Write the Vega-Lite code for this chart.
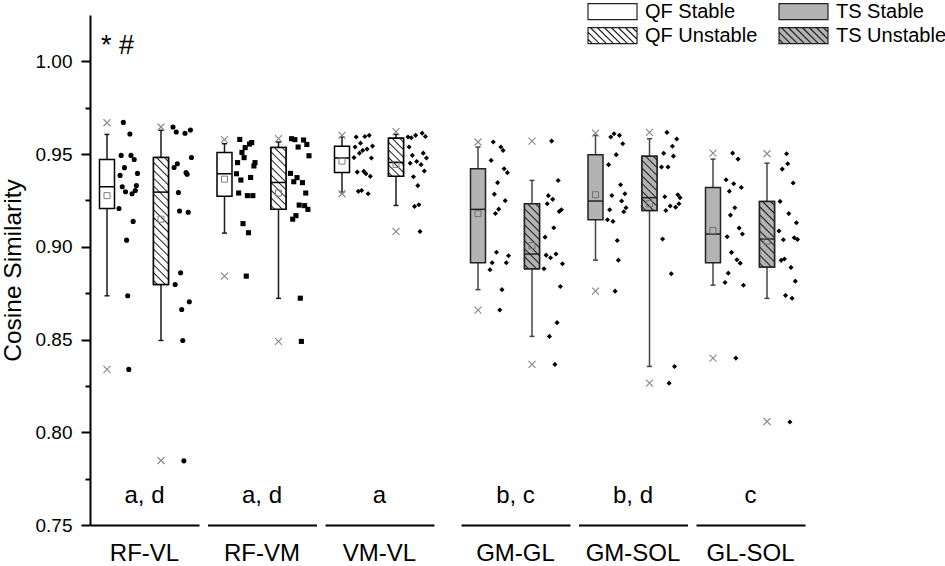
{
"$schema": "https://vega.github.io/schema/vega-lite/v6.json",
"padding": {"left": 0, "top": 1, "right": 0, "bottom": 0},
"config": {
  "font": "Liberation Sans",
  "view": {"stroke": null},
  "header": {"labelOrient": "bottom", "labelFontSize": 24, "labelColor": "#000000", "labelPadding": 17, "labelFont": "Liberation Sans"}
},
"data": {"values": [
  {"pair":"RF-VL","cond":"QF Stable","min":0.8339,"lo":0.8736,"q1":0.9206,"med":0.9324,"q3":0.9471,"hi":0.9606,"max":0.9669,"mean":0.9276},
  {"pair":"RF-VL","cond":"QF Unstable","min":0.7848,"lo":0.8495,"q1":0.8797,"med":0.9295,"q3":0.9481,"hi":0.9628,"max":0.9646,"mean":0.9149},
  {"pair":"RF-VM","cond":"QF Stable","min":0.8842,"lo":0.9074,"q1":0.9273,"med":0.9394,"q3":0.9509,"hi":0.9556,"max":0.9578,"mean":0.9365},
  {"pair":"RF-VM","cond":"QF Unstable","min":0.8490,"lo":0.8722,"q1":0.9202,"med":0.9347,"q3":0.9535,"hi":0.9565,"max":0.9583,"mean":0.9290},
  {"pair":"VM-VL","cond":"QF Stable","min":0.9286,"lo":0.9293,"q1":0.9401,"med":0.9479,"q3":0.9542,"hi":0.9592,"max":0.9601,"mean":0.9462},
  {"pair":"VM-VL","cond":"QF Unstable","min":0.9083,"lo":0.9223,"q1":0.9380,"med":0.9455,"q3":0.9585,"hi":0.9606,"max":0.9621,"mean":0.9444},
  {"pair":"GM-GL","cond":"TS Stable","min":0.8659,"lo":0.8769,"q1":0.8914,"med":0.9202,"q3":0.9421,"hi":0.9538,"max":0.9565,"mean":0.9179},
  {"pair":"GM-GL","cond":"TS Unstable","min":0.8366,"lo":0.8517,"q1":0.8882,"med":0.8961,"q3":0.9232,"hi":0.9358,"max":0.9570,"mean":0.9006},
  {"pair":"GM-SOL","cond":"TS Stable","min":0.8761,"lo":0.8928,"q1":0.9146,"med":0.9247,"q3":0.9497,"hi":0.9601,"max":0.9613,"mean":0.9281},
  {"pair":"GM-SOL","cond":"TS Unstable","min":0.8265,"lo":0.8355,"q1":0.9196,"med":0.9265,"q3":0.9489,"hi":0.9583,"max":0.9617,"mean":0.9232},
  {"pair":"GL-SOL","cond":"TS Stable","min":0.8400,"lo":0.8793,"q1":0.8914,"med":0.9069,"q3":0.9320,"hi":0.9473,"max":0.9505,"mean":0.9088},
  {"pair":"GL-SOL","cond":"TS Unstable","min":0.8058,"lo":0.8722,"q1":0.8891,"med":0.9042,"q3":0.9245,"hi":0.9451,"max":0.9502,"mean":0.9031},
  {"pair":"RF-VL","sig":"a, d"},
  {"pair":"RF-VM","sig":"a, d"},
  {"pair":"VM-VL","sig":"a"},
  {"pair":"GM-GL","sig":"b, c"},
  {"pair":"GM-SOL","sig":"b, d"},
  {"pair":"GL-SOL","sig":"c"},
  {"pair":"RF-VL","note":"* #"},
  {"pair":"RF-VL","cond":"QF Stable","id":1,"v":0.9207},{"pair":"RF-VL","cond":"QF Stable","id":2,"v":0.9385},{"pair":"RF-VL","cond":"QF Stable","id":3,"v":0.9493},{"pair":"RF-VL","cond":"QF Stable","id":4,"v":0.9324},{"pair":"RF-VL","cond":"QF Stable","id":5,"v":0.9671},{"pair":"RF-VL","cond":"QF Stable","id":6,"v":0.9427},{"pair":"RF-VL","cond":"QF Stable","id":7,"v":0.9297},{"pair":"RF-VL","cond":"QF Stable","id":8,"v":0.9036},{"pair":"RF-VL","cond":"QF Stable","id":9,"v":0.8736},{"pair":"RF-VL","cond":"QF Stable","id":10,"v":0.8339},{"pair":"RF-VL","cond":"QF Stable","id":11,"v":0.9608},{"pair":"RF-VL","cond":"QF Stable","id":12,"v":0.9493},{"pair":"RF-VL","cond":"QF Stable","id":13,"v":0.9286},{"pair":"RF-VL","cond":"QF Stable","id":14,"v":0.9137},{"pair":"RF-VL","cond":"QF Stable","id":15,"v":0.9471},{"pair":"RF-VL","cond":"QF Stable","id":16,"v":0.9304},{"pair":"RF-VL","cond":"QF Stable","id":17,"v":0.9330},{"pair":"RF-VL","cond":"QF Stable","id":18,"v":0.9396},
  {"pair":"RF-VL","cond":"QF Unstable","id":1,"v":0.9646},{"pair":"RF-VL","cond":"QF Unstable","id":2,"v":0.9428},{"pair":"RF-VL","cond":"QF Unstable","id":3,"v":0.8797},{"pair":"RF-VL","cond":"QF Unstable","id":4,"v":0.9619},{"pair":"RF-VL","cond":"QF Unstable","id":5,"v":0.9448},{"pair":"RF-VL","cond":"QF Unstable","id":6,"v":0.9293},{"pair":"RF-VL","cond":"QF Unstable","id":7,"v":0.9193},{"pair":"RF-VL","cond":"QF Unstable","id":8,"v":0.8860},{"pair":"RF-VL","cond":"QF Unstable","id":9,"v":0.8662},{"pair":"RF-VL","cond":"QF Unstable","id":10,"v":0.8495},{"pair":"RF-VL","cond":"QF Unstable","id":11,"v":0.7846},{"pair":"RF-VL","cond":"QF Unstable","id":12,"v":0.9612},{"pair":"RF-VL","cond":"QF Unstable","id":13,"v":0.9400},{"pair":"RF-VL","cond":"QF Unstable","id":14,"v":0.9391},{"pair":"RF-VL","cond":"QF Unstable","id":15,"v":0.9186},{"pair":"RF-VL","cond":"QF Unstable","id":16,"v":0.8704},{"pair":"RF-VL","cond":"QF Unstable","id":17,"v":0.9630},{"pair":"RF-VL","cond":"QF Unstable","id":18,"v":0.9482},
  {"pair":"RF-VM","cond":"QF Stable","id":1,"v":0.9394},{"pair":"RF-VM","cond":"QF Stable","id":2,"v":0.9454},{"pair":"RF-VM","cond":"QF Stable","id":3,"v":0.9290},{"pair":"RF-VM","cond":"QF Stable","id":4,"v":0.9579},{"pair":"RF-VM","cond":"QF Stable","id":5,"v":0.9360},{"pair":"RF-VM","cond":"QF Stable","id":6,"v":0.9509},{"pair":"RF-VM","cond":"QF Stable","id":7,"v":0.9125},{"pair":"RF-VM","cond":"QF Stable","id":8,"v":0.9481},{"pair":"RF-VM","cond":"QF Stable","id":9,"v":0.9535},{"pair":"RF-VM","cond":"QF Stable","id":10,"v":0.8842},{"pair":"RF-VM","cond":"QF Stable","id":11,"v":0.9276},{"pair":"RF-VM","cond":"QF Stable","id":12,"v":0.9076},{"pair":"RF-VM","cond":"QF Stable","id":13,"v":0.9554},{"pair":"RF-VM","cond":"QF Stable","id":14,"v":0.9374},{"pair":"RF-VM","cond":"QF Stable","id":15,"v":0.9562},{"pair":"RF-VM","cond":"QF Stable","id":16,"v":0.9276},{"pair":"RF-VM","cond":"QF Stable","id":17,"v":0.9436},{"pair":"RF-VM","cond":"QF Stable","id":18,"v":0.9454},
  {"pair":"RF-VM","cond":"QF Unstable","id":1,"v":0.9396},{"pair":"RF-VM","cond":"QF Unstable","id":2,"v":0.9583},{"pair":"RF-VM","cond":"QF Unstable","id":3,"v":0.9149},{"pair":"RF-VM","cond":"QF Unstable","id":4,"v":0.9351},{"pair":"RF-VM","cond":"QF Unstable","id":5,"v":0.9578},{"pair":"RF-VM","cond":"QF Unstable","id":6,"v":0.9168},{"pair":"RF-VM","cond":"QF Unstable","id":7,"v":0.9373},{"pair":"RF-VM","cond":"QF Unstable","id":8,"v":0.9538},{"pair":"RF-VM","cond":"QF Unstable","id":9,"v":0.9225},{"pair":"RF-VM","cond":"QF Unstable","id":10,"v":0.8723},{"pair":"RF-VM","cond":"QF Unstable","id":11,"v":0.8490},{"pair":"RF-VM","cond":"QF Unstable","id":12,"v":0.9346},{"pair":"RF-VM","cond":"QF Unstable","id":13,"v":0.9576},{"pair":"RF-VM","cond":"QF Unstable","id":14,"v":0.9222},{"pair":"RF-VM","cond":"QF Unstable","id":15,"v":0.9290},{"pair":"RF-VM","cond":"QF Unstable","id":16,"v":0.9552},{"pair":"RF-VM","cond":"QF Unstable","id":17,"v":0.9202},{"pair":"RF-VM","cond":"QF Unstable","id":18,"v":0.9491},
  {"pair":"VM-VL","cond":"QF Stable","id":1,"v":0.9481},{"pair":"VM-VL","cond":"QF Stable","id":2,"v":0.9538},{"pair":"VM-VL","cond":"QF Stable","id":3,"v":0.9592},{"pair":"VM-VL","cond":"QF Stable","id":4,"v":0.9403},{"pair":"VM-VL","cond":"QF Stable","id":5,"v":0.9299},{"pair":"VM-VL","cond":"QF Stable","id":6,"v":0.9505},{"pair":"VM-VL","cond":"QF Stable","id":7,"v":0.9559},{"pair":"VM-VL","cond":"QF Stable","id":8,"v":0.9304},{"pair":"VM-VL","cond":"QF Stable","id":9,"v":0.9520},{"pair":"VM-VL","cond":"QF Stable","id":10,"v":0.9407},{"pair":"VM-VL","cond":"QF Stable","id":11,"v":0.9595},{"pair":"VM-VL","cond":"QF Stable","id":12,"v":0.9394},{"pair":"VM-VL","cond":"QF Stable","id":13,"v":0.9527},{"pair":"VM-VL","cond":"QF Stable","id":14,"v":0.9286},{"pair":"VM-VL","cond":"QF Stable","id":15,"v":0.9601},{"pair":"VM-VL","cond":"QF Stable","id":16,"v":0.9380},{"pair":"VM-VL","cond":"QF Stable","id":17,"v":0.9479},{"pair":"VM-VL","cond":"QF Stable","id":18,"v":0.9543},
  {"pair":"VM-VL","cond":"QF Unstable","id":1,"v":0.9592},{"pair":"VM-VL","cond":"QF Unstable","id":2,"v":0.9538},{"pair":"VM-VL","cond":"QF Unstable","id":3,"v":0.9451},{"pair":"VM-VL","cond":"QF Unstable","id":4,"v":0.9588},{"pair":"VM-VL","cond":"QF Unstable","id":5,"v":0.9493},{"pair":"VM-VL","cond":"QF Unstable","id":6,"v":0.9378},{"pair":"VM-VL","cond":"QF Unstable","id":7,"v":0.9218},{"pair":"VM-VL","cond":"QF Unstable","id":8,"v":0.9601},{"pair":"VM-VL","cond":"QF Unstable","id":9,"v":0.9460},{"pair":"VM-VL","cond":"QF Unstable","id":10,"v":0.9330},{"pair":"VM-VL","cond":"QF Unstable","id":11,"v":0.9227},{"pair":"VM-VL","cond":"QF Unstable","id":12,"v":0.9083},{"pair":"VM-VL","cond":"QF Unstable","id":13,"v":0.9443},{"pair":"VM-VL","cond":"QF Unstable","id":14,"v":0.9613},{"pair":"VM-VL","cond":"QF Unstable","id":15,"v":0.9505},{"pair":"VM-VL","cond":"QF Unstable","id":16,"v":0.9409},{"pair":"VM-VL","cond":"QF Unstable","id":17,"v":0.9595},{"pair":"VM-VL","cond":"QF Unstable","id":18,"v":0.9479},
  {"pair":"GM-GL","cond":"TS Stable","id":1,"v":0.8876},{"pair":"GM-GL","cond":"TS Stable","id":2,"v":0.9466},{"pair":"GM-GL","cond":"TS Stable","id":3,"v":0.8914},{"pair":"GM-GL","cond":"TS Stable","id":4,"v":0.9565},{"pair":"GM-GL","cond":"TS Stable","id":5,"v":0.9284},{"pair":"GM-GL","cond":"TS Stable","id":6,"v":0.9180},{"pair":"GM-GL","cond":"TS Stable","id":7,"v":0.8971},{"pair":"GM-GL","cond":"TS Stable","id":8,"v":0.9346},{"pair":"GM-GL","cond":"TS Stable","id":9,"v":0.9203},{"pair":"GM-GL","cond":"TS Stable","id":10,"v":0.8659},{"pair":"GM-GL","cond":"TS Stable","id":11,"v":0.9538},{"pair":"GM-GL","cond":"TS Stable","id":12,"v":0.8769},{"pair":"GM-GL","cond":"TS Stable","id":13,"v":0.9520},{"pair":"GM-GL","cond":"TS Stable","id":14,"v":0.9421},{"pair":"GM-GL","cond":"TS Stable","id":15,"v":0.9249},{"pair":"GM-GL","cond":"TS Stable","id":16,"v":0.8914},{"pair":"GM-GL","cond":"TS Stable","id":17,"v":0.9400},{"pair":"GM-GL","cond":"TS Stable","id":18,"v":0.8952},
  {"pair":"GM-GL","cond":"TS Unstable","id":1,"v":0.8882},{"pair":"GM-GL","cond":"TS Unstable","id":2,"v":0.9052},{"pair":"GM-GL","cond":"TS Unstable","id":3,"v":0.8955},{"pair":"GM-GL","cond":"TS Unstable","id":4,"v":0.9232},{"pair":"GM-GL","cond":"TS Unstable","id":5,"v":0.9276},{"pair":"GM-GL","cond":"TS Unstable","id":6,"v":0.8517},{"pair":"GM-GL","cond":"TS Unstable","id":7,"v":0.8941},{"pair":"GM-GL","cond":"TS Unstable","id":8,"v":0.9570},{"pair":"GM-GL","cond":"TS Unstable","id":9,"v":0.9256},{"pair":"GM-GL","cond":"TS Unstable","id":10,"v":0.9103},{"pair":"GM-GL","cond":"TS Unstable","id":11,"v":0.8366},{"pair":"GM-GL","cond":"TS Unstable","id":12,"v":0.8961},{"pair":"GM-GL","cond":"TS Unstable","id":13,"v":0.8591},{"pair":"GM-GL","cond":"TS Unstable","id":14,"v":0.9358},{"pair":"GM-GL","cond":"TS Unstable","id":15,"v":0.9191},{"pair":"GM-GL","cond":"TS Unstable","id":16,"v":0.8786},{"pair":"GM-GL","cond":"TS Unstable","id":17,"v":0.9200},{"pair":"GM-GL","cond":"TS Unstable","id":18,"v":0.8909},
  {"pair":"GM-SOL","cond":"TS Stable","id":1,"v":0.9146},{"pair":"GM-SOL","cond":"TS Stable","id":2,"v":0.9443},{"pair":"GM-SOL","cond":"TS Stable","id":3,"v":0.9200},{"pair":"GM-SOL","cond":"TS Stable","id":4,"v":0.9592},{"pair":"GM-SOL","cond":"TS Stable","id":5,"v":0.9277},{"pair":"GM-SOL","cond":"TS Stable","id":6,"v":0.9137},{"pair":"GM-SOL","cond":"TS Stable","id":7,"v":0.9610},{"pair":"GM-SOL","cond":"TS Stable","id":8,"v":0.8761},{"pair":"GM-SOL","cond":"TS Stable","id":9,"v":0.9497},{"pair":"GM-SOL","cond":"TS Stable","id":10,"v":0.9034},{"pair":"GM-SOL","cond":"TS Stable","id":11,"v":0.8928},{"pair":"GM-SOL","cond":"TS Stable","id":12,"v":0.9601},{"pair":"GM-SOL","cond":"TS Stable","id":13,"v":0.9335},{"pair":"GM-SOL","cond":"TS Stable","id":14,"v":0.9247},{"pair":"GM-SOL","cond":"TS Stable","id":15,"v":0.9556},{"pair":"GM-SOL","cond":"TS Stable","id":16,"v":0.9189},{"pair":"GM-SOL","cond":"TS Stable","id":17,"v":0.9286},{"pair":"GM-SOL","cond":"TS Stable","id":18,"v":0.9211},
  {"pair":"GM-SOL","cond":"TS Unstable","id":1,"v":0.9430},{"pair":"GM-SOL","cond":"TS Unstable","id":2,"v":0.9042},{"pair":"GM-SOL","cond":"TS Unstable","id":3,"v":0.9504},{"pair":"GM-SOL","cond":"TS Unstable","id":4,"v":0.9270},{"pair":"GM-SOL","cond":"TS Unstable","id":5,"v":0.9196},{"pair":"GM-SOL","cond":"TS Unstable","id":6,"v":0.9617},{"pair":"GM-SOL","cond":"TS Unstable","id":7,"v":0.9430},{"pair":"GM-SOL","cond":"TS Unstable","id":8,"v":0.8265},{"pair":"GM-SOL","cond":"TS Unstable","id":9,"v":0.9220},{"pair":"GM-SOL","cond":"TS Unstable","id":10,"v":0.8855},{"pair":"GM-SOL","cond":"TS Unstable","id":11,"v":0.9542},{"pair":"GM-SOL","cond":"TS Unstable","id":12,"v":0.9489},{"pair":"GM-SOL","cond":"TS Unstable","id":13,"v":0.8355},{"pair":"GM-SOL","cond":"TS Unstable","id":14,"v":0.9214},{"pair":"GM-SOL","cond":"TS Unstable","id":15,"v":0.9581},{"pair":"GM-SOL","cond":"TS Unstable","id":16,"v":0.9281},{"pair":"GM-SOL","cond":"TS Unstable","id":17,"v":0.9232},{"pair":"GM-SOL","cond":"TS Unstable","id":18,"v":0.9265},
  {"pair":"GL-SOL","cond":"TS Stable","id":1,"v":0.8808},{"pair":"GL-SOL","cond":"TS Stable","id":2,"v":0.9362},{"pair":"GL-SOL","cond":"TS Stable","id":3,"v":0.9054},{"pair":"GL-SOL","cond":"TS Stable","id":4,"v":0.8858},{"pair":"GL-SOL","cond":"TS Stable","id":5,"v":0.9300},{"pair":"GL-SOL","cond":"TS Stable","id":6,"v":0.9171},{"pair":"GL-SOL","cond":"TS Stable","id":7,"v":0.8970},{"pair":"GL-SOL","cond":"TS Stable","id":8,"v":0.9505},{"pair":"GL-SOL","cond":"TS Stable","id":9,"v":0.9340},{"pair":"GL-SOL","cond":"TS Stable","id":10,"v":0.9211},{"pair":"GL-SOL","cond":"TS Stable","id":11,"v":0.8400},{"pair":"GL-SOL","cond":"TS Stable","id":12,"v":0.8930},{"pair":"GL-SOL","cond":"TS Stable","id":13,"v":0.9473},{"pair":"GL-SOL","cond":"TS Stable","id":14,"v":0.9101},{"pair":"GL-SOL","cond":"TS Stable","id":15,"v":0.8912},{"pair":"GL-SOL","cond":"TS Stable","id":16,"v":0.9320},{"pair":"GL-SOL","cond":"TS Stable","id":17,"v":0.9069},{"pair":"GL-SOL","cond":"TS Stable","id":18,"v":0.8793},
  {"pair":"GL-SOL","cond":"TS Unstable","id":1,"v":0.9085},{"pair":"GL-SOL","cond":"TS Unstable","id":2,"v":0.9245},{"pair":"GL-SOL","cond":"TS Unstable","id":3,"v":0.8927},{"pair":"GL-SOL","cond":"TS Unstable","id":4,"v":0.9419},{"pair":"GL-SOL","cond":"TS Unstable","id":5,"v":0.9038},{"pair":"GL-SOL","cond":"TS Unstable","id":6,"v":0.8934},{"pair":"GL-SOL","cond":"TS Unstable","id":7,"v":0.8738},{"pair":"GL-SOL","cond":"TS Unstable","id":8,"v":0.9502},{"pair":"GL-SOL","cond":"TS Unstable","id":9,"v":0.9448},{"pair":"GL-SOL","cond":"TS Unstable","id":10,"v":0.9179},{"pair":"GL-SOL","cond":"TS Unstable","id":11,"v":0.8055},{"pair":"GL-SOL","cond":"TS Unstable","id":12,"v":0.8889},{"pair":"GL-SOL","cond":"TS Unstable","id":13,"v":0.8723},{"pair":"GL-SOL","cond":"TS Unstable","id":14,"v":0.9344},{"pair":"GL-SOL","cond":"TS Unstable","id":15,"v":0.9049},{"pair":"GL-SOL","cond":"TS Unstable","id":16,"v":0.8815},{"pair":"GL-SOL","cond":"TS Unstable","id":17,"v":0.9130},{"pair":"GL-SOL","cond":"TS Unstable","id":18,"v":0.9040}
]},
"hconcat": [
  {
    "transform": [{"filter": {"field": "pair", "oneOf": ["RF-VL", "RF-VM", "VM-VL"]}}],
    "facet": {"column": {"field": "pair", "type": "nominal", "sort": ["RF-VL", "RF-VM", "VM-VL"], "title": null}},
    "spacing": 8.5,
    "spec": {
      "width": 109,
      "height": 510,
      "layer": [
        {
          "transform": [{"filter": "isValid(datum.q1)"}],
          "encoding": {
            "x": {"field": "cond", "type": "nominal", "bandPosition": 0.1875,
              "scale": {"type": "band", "domain": ["QF Stable", "QF Unstable"], "paddingInner": 0.2593, "paddingOuter": 0.1389, "align": 0.633},
              "axis": {"title": null, "labels": false, "ticks": false, "grid": false, "domain": true, "domainColor": "#000000", "domainWidth": 2}}
          },
          "layer": [
            {"mark": {"type": "rule", "color": "#1a1a1a", "strokeWidth": 1.5},
             "encoding": {
               "y": {"field": "lo", "type": "quantitative", "scale": {"domain": [0.75, 1.025], "nice": false, "zero": false},
                 "axis": {"title": "Cosine Similarity", "values": [0.75, 0.775, 0.8, 0.825, 0.85, 0.875, 0.9, 0.925, 0.95, 0.975, 1],
                   "labelExpr": "round(datum.value*1000) % 50 === 0 ? format(datum.value, '.2f') : ''",
                   "tickSize": {"condition": {"test": "round(datum.value*1000) % 50 === 0", "value": 9}, "value": 5},
                   "tickWidth": 2, "tickColor": "#000000", "domainColor": "#000000", "domainWidth": 2,
                   "labelFontSize": 19, "labelColor": "#000000", "labelPadding": 9, "labelFont": "Liberation Sans", "labelOverlap": false,
                   "titleFont": "Liberation Sans", "titleFontSize": 24.5, "titleFontWeight": "normal", "titleColor": "#000000", "titlePadding": 9.5, "grid": false}},
               "y2": {"field": "hi"}}},
            {"mark": {"type": "point", "shape": "M-1,0H1", "size": 25, "filled": false, "stroke": "#1a1a1a", "strokeWidth": 1.5, "opacity": 1},
             "encoding": {"y": {"field": "lo", "type": "quantitative", "scale": {"domain": [0.75, 1.025], "nice": false, "zero": false}}}},
            {"mark": {"type": "point", "shape": "M-1,0H1", "size": 25, "filled": false, "stroke": "#1a1a1a", "strokeWidth": 1.5, "opacity": 1},
             "encoding": {"y": {"field": "hi", "type": "quantitative", "scale": {"domain": [0.75, 1.025], "nice": false, "zero": false}}}},
            {"mark": {"type": "bar", "width": 15, "align": "left", "stroke": "#000000", "strokeWidth": 1.5, "opacity": 1},
             "encoding": {
               "y": {"field": "q1", "type": "quantitative", "scale": {"domain": [0.75, 1.025], "nice": false, "zero": false}},
               "y2": {"field": "q3"},
               "fill": {"field": "cond", "type": "nominal",
                 "scale": {"domain": ["QF Stable", "QF Unstable", "TS Stable", "TS Unstable"], "range": ["#ffffff", "#ffffff", "#b3b3b3", "#b3b3b3"]},
                 "legend": {"title": null, "orient": "none", "legendX": 497, "legendY": -13.3, "columns": 2, "columnPadding": 20, "rowPadding": 4, "clipHeight": 20,
                   "symbolSize": 2401, "symbolStrokeWidth": 1.2, "symbolStrokeColor": "#222222", "symbolOpacity": 1,
                   "labelFontSize": 20, "labelFont": "Liberation Sans", "labelColor": "#000000", "labelOffset": 7, "labelLimit": 200, "padding": 0}}}},
            {"mark": {"type": "point", "opacity": 0, "size": 1},
             "encoding": {
               "y": {"field": "q1", "type": "quantitative", "scale": {"domain": [0.75, 1.025], "nice": false, "zero": false}},
               "shape": {"field": "cond", "type": "nominal",
                 "scale": {"domain": ["QF Stable", "QF Unstable", "TS Stable", "TS Unstable"], "range": [
                   "M-1,-0.3265H1V0.3265H-1Z",
                   "M-1,-0.3265H1V0.3265H-1ZM-1,0.1429L-0.8164,0.3265M-1,-0.1429L-0.5306,0.3265M-0.898,-0.3265L-0.2449,0.3265M-0.6122,-0.3265L0.0408,0.3265M-0.3265,-0.3265L0.3265,0.3265M-0.0408,-0.3265L0.6122,0.3265M0.2449,-0.3265L0.898,0.3265M0.5306,-0.3265L1,0.1429M0.8164,-0.3265L1,-0.1429",
                   "M-1,-0.3265H1V0.3265H-1Z",
                   "M-1,-0.3265H1V0.3265H-1ZM-1,0.1429L-0.8164,0.3265M-1,-0.1429L-0.5306,0.3265M-0.898,-0.3265L-0.2449,0.3265M-0.6122,-0.3265L0.0408,0.3265M-0.3265,-0.3265L0.3265,0.3265M-0.0408,-0.3265L0.6122,0.3265M0.2449,-0.3265L0.898,0.3265M0.5306,-0.3265L1,0.1429M0.8164,-0.3265L1,-0.1429"]},
                 "legend": {"title": null, "orient": "none", "legendX": 497, "legendY": -13.3, "columns": 2, "columnPadding": 20, "rowPadding": 4, "clipHeight": 20,
                   "symbolSize": 2401, "symbolStrokeWidth": 1.2, "symbolStrokeColor": "#222222", "symbolOpacity": 1,
                   "labelFontSize": 20, "labelFont": "Liberation Sans", "labelColor": "#000000", "labelOffset": 7, "labelLimit": 200, "padding": 0}}}},
            {"transform": [{"filter": "datum.pair === 'RF-VL' && datum.cond === 'QF Unstable'"}],
             "mark": {"type": "bar", "width": 15, "align": "left", "stroke": "#000000", "strokeWidth": 1.5, "opacity": 1,
               "fill": {"gradient": "linear", "x1": 0, "y1": 1, "x2": 0.1304, "y2": -0.1028, "stops": [
                 {"offset":0.0178,"color":"#ffffff"},{"offset":0.0278,"color":"#222222"},{"offset":0.0378,"color":"#ffffff"},
                 {"offset":0.0733,"color":"#ffffff"},{"offset":0.0833,"color":"#222222"},{"offset":0.0933,"color":"#ffffff"},
                 {"offset":0.1289,"color":"#ffffff"},{"offset":0.1389,"color":"#222222"},{"offset":0.1489,"color":"#ffffff"},
                 {"offset":0.1844,"color":"#ffffff"},{"offset":0.1944,"color":"#222222"},{"offset":0.2044,"color":"#ffffff"},
                 {"offset":0.24,"color":"#ffffff"},{"offset":0.25,"color":"#222222"},{"offset":0.26,"color":"#ffffff"},
                 {"offset":0.2956,"color":"#ffffff"},{"offset":0.3056,"color":"#222222"},{"offset":0.3156,"color":"#ffffff"},
                 {"offset":0.3511,"color":"#ffffff"},{"offset":0.3611,"color":"#222222"},{"offset":0.3711,"color":"#ffffff"},
                 {"offset":0.4067,"color":"#ffffff"},{"offset":0.4167,"color":"#222222"},{"offset":0.4267,"color":"#ffffff"},
                 {"offset":0.4622,"color":"#ffffff"},{"offset":0.4722,"color":"#222222"},{"offset":0.4822,"color":"#ffffff"},
                 {"offset":0.5178,"color":"#ffffff"},{"offset":0.5278,"color":"#222222"},{"offset":0.5378,"color":"#ffffff"},
                 {"offset":0.5733,"color":"#ffffff"},{"offset":0.5833,"color":"#222222"},{"offset":0.5933,"color":"#ffffff"},
                 {"offset":0.6289,"color":"#ffffff"},{"offset":0.6389,"color":"#222222"},{"offset":0.6489,"color":"#ffffff"},
                 {"offset":0.6844,"color":"#ffffff"},{"offset":0.6944,"color":"#222222"},{"offset":0.7044,"color":"#ffffff"},
                 {"offset":0.74,"color":"#ffffff"},{"offset":0.75,"color":"#222222"},{"offset":0.76,"color":"#ffffff"},
                 {"offset":0.7956,"color":"#ffffff"},{"offset":0.8056,"color":"#222222"},{"offset":0.8156,"color":"#ffffff"},
                 {"offset":0.8511,"color":"#ffffff"},{"offset":0.8611,"color":"#222222"},{"offset":0.8711,"color":"#ffffff"},
                 {"offset":0.9067,"color":"#ffffff"},{"offset":0.9167,"color":"#222222"},{"offset":0.9267,"color":"#ffffff"},
                 {"offset":0.9622,"color":"#ffffff"},{"offset":0.9722,"color":"#222222"},{"offset":0.9822,"color":"#ffffff"}]}},
             "encoding": {"y": {"field": "q1", "type": "quantitative", "scale": {"domain": [0.75, 1.025], "nice": false, "zero": false}}, "y2": {"field": "q3"}}},
            {"transform": [{"filter": "datum.pair === 'RF-VM' && datum.cond === 'QF Unstable'"}],
             "mark": {"type": "bar", "width": 15, "align": "left", "stroke": "#000000", "strokeWidth": 1.5, "opacity": 1,
               "fill": {"gradient": "linear", "x1": 0, "y1": 1, "x2": 0.285, "y2": -0.1736, "stops": [
                 {"offset":0.032,"color":"#ffffff"},{"offset":0.05,"color":"#222222"},{"offset":0.068,"color":"#ffffff"},
                 {"offset":0.132,"color":"#ffffff"},{"offset":0.15,"color":"#222222"},{"offset":0.168,"color":"#ffffff"},
                 {"offset":0.232,"color":"#ffffff"},{"offset":0.25,"color":"#222222"},{"offset":0.268,"color":"#ffffff"},
                 {"offset":0.332,"color":"#ffffff"},{"offset":0.35,"color":"#222222"},{"offset":0.368,"color":"#ffffff"},
                 {"offset":0.432,"color":"#ffffff"},{"offset":0.45,"color":"#222222"},{"offset":0.468,"color":"#ffffff"},
                 {"offset":0.532,"color":"#ffffff"},{"offset":0.55,"color":"#222222"},{"offset":0.568,"color":"#ffffff"},
                 {"offset":0.632,"color":"#ffffff"},{"offset":0.65,"color":"#222222"},{"offset":0.668,"color":"#ffffff"},
                 {"offset":0.732,"color":"#ffffff"},{"offset":0.75,"color":"#222222"},{"offset":0.768,"color":"#ffffff"},
                 {"offset":0.832,"color":"#ffffff"},{"offset":0.85,"color":"#222222"},{"offset":0.868,"color":"#ffffff"},
                 {"offset":0.932,"color":"#ffffff"},{"offset":0.95,"color":"#222222"},{"offset":0.968,"color":"#ffffff"}]}},
             "encoding": {"y": {"field": "q1", "type": "quantitative", "scale": {"domain": [0.75, 1.025], "nice": false, "zero": false}}, "y2": {"field": "q3"}}},
            {"transform": [{"filter": "datum.pair === 'VM-VL' && datum.cond === 'QF Unstable'"}],
             "mark": {"type": "bar", "width": 15, "align": "left", "stroke": "#000000", "strokeWidth": 1.5, "opacity": 1,
               "fill": {"gradient": "linear", "x1": 0, "y1": 1, "x2": 0.4761, "y2": -0.2067, "stops": [
                 {"offset":0.0444,"color":"#ffffff"},{"offset":0.0714,"color":"#222222"},{"offset":0.0984,"color":"#ffffff"},
                 {"offset":0.1873,"color":"#ffffff"},{"offset":0.2143,"color":"#222222"},{"offset":0.2413,"color":"#ffffff"},
                 {"offset":0.3301,"color":"#ffffff"},{"offset":0.3571,"color":"#222222"},{"offset":0.3841,"color":"#ffffff"},
                 {"offset":0.473,"color":"#ffffff"},{"offset":0.5,"color":"#222222"},{"offset":0.527,"color":"#ffffff"},
                 {"offset":0.6159,"color":"#ffffff"},{"offset":0.6429,"color":"#222222"},{"offset":0.6699,"color":"#ffffff"},
                 {"offset":0.7587,"color":"#ffffff"},{"offset":0.7857,"color":"#222222"},{"offset":0.8127,"color":"#ffffff"},
                 {"offset":0.9016,"color":"#ffffff"},{"offset":0.9286,"color":"#222222"},{"offset":0.9556,"color":"#ffffff"}]}},
             "encoding": {"y": {"field": "q1", "type": "quantitative", "scale": {"domain": [0.75, 1.025], "nice": false, "zero": false}}, "y2": {"field": "q3"}}},
            {"mark": {"type": "point", "shape": "M-1,0H1", "size": 225, "filled": false, "stroke": "#000000", "strokeWidth": 1.5, "opacity": 1},
             "encoding": {"y": {"field": "med", "type": "quantitative", "scale": {"domain": [0.75, 1.025], "nice": false, "zero": false}}}},
            {"mark": {"type": "point", "shape": "square", "size": 36, "filled": false, "stroke": "#808080", "strokeWidth": 1, "opacity": 1},
             "encoding": {"y": {"field": "mean", "type": "quantitative", "scale": {"domain": [0.75, 1.025], "nice": false, "zero": false}}}},
            {"mark": {"type": "point", "shape": "M-1,-1L1,1M-1,1L1,-1", "size": 49, "filled": false, "stroke": "#8c8c8c", "strokeWidth": 1.2, "opacity": 1},
             "encoding": {"y": {"field": "max", "type": "quantitative", "scale": {"domain": [0.75, 1.025], "nice": false, "zero": false}}}},
            {"mark": {"type": "point", "shape": "M-1,-1L1,1M-1,1L1,-1", "size": 49, "filled": false, "stroke": "#8c8c8c", "strokeWidth": 1.2, "opacity": 1},
             "encoding": {"y": {"field": "min", "type": "quantitative", "scale": {"domain": [0.75, 1.025], "nice": false, "zero": false}}}}
          ]
        },
        {
          "transform": [{"filter": "isValid(datum.v) && datum.pair === 'RF-VL'"}],
          "mark": {"type": "point", "shape": "circle", "filled": true, "size": 26, "color": "#000000", "opacity": 1},
          "encoding": {
            "x": {"field": "cond", "type": "nominal", "scale": {"type": "band", "domain": ["QF Stable", "QF Unstable"], "paddingInner": 0.2593, "paddingOuter": 0.1389, "align": 0.633}},
            "xOffset": {"field": "id", "type": "ordinal", "scale": {"range": [19.5, 38], "paddingInner": 0, "paddingOuter": 0}},
            "y": {"field": "v", "type": "quantitative", "scale": {"domain": [0.75, 1.025], "nice": false, "zero": false}}
          }
        },
        {
          "transform": [{"filter": "isValid(datum.v) && datum.pair === 'RF-VM'"}],
          "mark": {"type": "point", "shape": "square", "filled": true, "size": 26, "color": "#000000", "opacity": 1},
          "encoding": {
            "x": {"field": "cond", "type": "nominal", "scale": {"type": "band", "domain": ["QF Stable", "QF Unstable"], "paddingInner": 0.2593, "paddingOuter": 0.1389, "align": 0.633}},
            "xOffset": {"field": "id", "type": "ordinal", "scale": {"range": [19.5, 38], "paddingInner": 0, "paddingOuter": 0}},
            "y": {"field": "v", "type": "quantitative", "scale": {"domain": [0.75, 1.025], "nice": false, "zero": false}}
          }
        },
        {
          "transform": [{"filter": "isValid(datum.v) && datum.pair === 'VM-VL'"}],
          "mark": {"type": "point", "shape": "diamond", "filled": true, "size": 26, "color": "#000000", "opacity": 1},
          "encoding": {
            "x": {"field": "cond", "type": "nominal", "scale": {"type": "band", "domain": ["QF Stable", "QF Unstable"], "paddingInner": 0.2593, "paddingOuter": 0.1389, "align": 0.633}},
            "xOffset": {"field": "id", "type": "ordinal", "scale": {"range": [19.5, 38], "paddingInner": 0, "paddingOuter": 0}},
            "y": {"field": "v", "type": "quantitative", "scale": {"domain": [0.75, 1.025], "nice": false, "zero": false}}
          }
        },
        {
          "transform": [{"filter": "isValid(datum.sig)"}],
          "mark": {"type": "text", "fontSize": 24, "color": "#000000", "baseline": "alphabetic", "align": "center"},
          "encoding": {
            "y": {"datum": 0.7616, "type": "quantitative", "scale": {"domain": [0.75, 1.025], "nice": false, "zero": false}},
            "text": {"field": "sig"}
          }
        },
        {
          "transform": [{"filter": "isValid(datum.note)"}],
          "mark": {"type": "text", "fontSize": 27, "color": "#000000", "baseline": "alphabetic", "align": "left"},
          "encoding": {
            "x": {"datum": "QF Stable", "type": "nominal", "bandPosition": 0.0375, "scale": {"type": "band", "domain": ["QF Stable", "QF Unstable"], "paddingInner": 0.2593, "paddingOuter": 0.1389, "align": 0.633}},
            "y": {"datum": 1.0042, "type": "quantitative", "scale": {"domain": [0.75, 1.025], "nice": false, "zero": false}},
            "text": {"field": "note"}
          }
        }
      ]
    }
  },
  {
    "transform": [{"filter": {"field": "pair", "oneOf": ["GM-GL", "GM-SOL", "GL-SOL"]}}],
    "facet": {"column": {"field": "pair", "type": "nominal", "sort": ["GM-GL", "GM-SOL", "GL-SOL"], "title": null}},
    "spacing": 8.5,
    "spec": {
      "width": 109,
      "height": 510,
      "layer": [
        {
          "transform": [{"filter": "isValid(datum.q1)"}],
          "encoding": {
            "x": {"field": "cond", "type": "nominal", "bandPosition": 0.1875,
              "scale": {"type": "band", "domain": ["TS Stable", "TS Unstable"], "paddingInner": 0.2593, "paddingOuter": 0.1389, "align": 0.633},
              "axis": {"title": null, "labels": false, "ticks": false, "grid": false, "domain": true, "domainColor": "#000000", "domainWidth": 2}}
          },
          "layer": [
            {"mark": {"type": "rule", "color": "#444444", "strokeWidth": 1.5},
             "encoding": {"y": {"field": "lo", "type": "quantitative", "scale": {"domain": [0.75, 1.025], "nice": false, "zero": false}, "axis": null}, "y2": {"field": "hi"}}},
            {"mark": {"type": "point", "shape": "M-1,0H1", "size": 25, "filled": false, "stroke": "#444444", "strokeWidth": 1.5, "opacity": 1},
             "encoding": {"y": {"field": "lo", "type": "quantitative", "scale": {"domain": [0.75, 1.025], "nice": false, "zero": false}, "axis": null}}},
            {"mark": {"type": "point", "shape": "M-1,0H1", "size": 25, "filled": false, "stroke": "#444444", "strokeWidth": 1.5, "opacity": 1},
             "encoding": {"y": {"field": "hi", "type": "quantitative", "scale": {"domain": [0.75, 1.025], "nice": false, "zero": false}, "axis": null}}},
            {"mark": {"type": "bar", "width": 15, "align": "left", "stroke": "#222222", "strokeWidth": 1.5, "opacity": 1},
             "encoding": {
               "y": {"field": "q1", "type": "quantitative", "scale": {"domain": [0.75, 1.025], "nice": false, "zero": false}, "axis": null},
               "y2": {"field": "q3"},
               "fill": {"field": "cond", "type": "nominal",
                 "scale": {"domain": ["QF Stable", "QF Unstable", "TS Stable", "TS Unstable"], "range": ["#ffffff", "#ffffff", "#b3b3b3", "#b3b3b3"]},
                 "legend": null}}},
            {"transform": [{"filter": "datum.pair === 'GM-GL' && datum.cond === 'TS Unstable'"}],
             "mark": {"type": "bar", "width": 15, "align": "left", "stroke": "#222222", "strokeWidth": 1.5, "opacity": 1,
               "fill": {"gradient": "linear", "x1": 0, "y1": 1, "x2": 0.2701, "y2": -0.1687, "stops": [
                 {"offset":0.032,"color":"#b3b3b3"},{"offset":0.05,"color":"#1a1a1a"},{"offset":0.068,"color":"#b3b3b3"},
                 {"offset":0.132,"color":"#b3b3b3"},{"offset":0.15,"color":"#1a1a1a"},{"offset":0.168,"color":"#b3b3b3"},
                 {"offset":0.232,"color":"#b3b3b3"},{"offset":0.25,"color":"#1a1a1a"},{"offset":0.268,"color":"#b3b3b3"},
                 {"offset":0.332,"color":"#b3b3b3"},{"offset":0.35,"color":"#1a1a1a"},{"offset":0.368,"color":"#b3b3b3"},
                 {"offset":0.432,"color":"#b3b3b3"},{"offset":0.45,"color":"#1a1a1a"},{"offset":0.468,"color":"#b3b3b3"},
                 {"offset":0.532,"color":"#b3b3b3"},{"offset":0.55,"color":"#1a1a1a"},{"offset":0.568,"color":"#b3b3b3"},
                 {"offset":0.632,"color":"#b3b3b3"},{"offset":0.65,"color":"#1a1a1a"},{"offset":0.668,"color":"#b3b3b3"},
                 {"offset":0.732,"color":"#b3b3b3"},{"offset":0.75,"color":"#1a1a1a"},{"offset":0.768,"color":"#b3b3b3"},
                 {"offset":0.832,"color":"#b3b3b3"},{"offset":0.85,"color":"#1a1a1a"},{"offset":0.868,"color":"#b3b3b3"},
                 {"offset":0.932,"color":"#b3b3b3"},{"offset":0.95,"color":"#1a1a1a"},{"offset":0.968,"color":"#b3b3b3"}]}},
             "encoding": {"y": {"field": "q1", "type": "quantitative", "scale": {"domain": [0.75, 1.025], "nice": false, "zero": false}, "axis": null}, "y2": {"field": "q3"}}},
            {"transform": [{"filter": "datum.pair === 'GM-SOL' && datum.cond === 'TS Unstable'"}],
             "mark": {"type": "bar", "width": 15, "align": "left", "stroke": "#222222", "strokeWidth": 1.5, "opacity": 1,
               "fill": {"gradient": "linear", "x1": 0, "y1": 1, "x2": 0.3273, "y2": -0.1857, "stops": [
                 {"offset":0.0356,"color":"#b3b3b3"},{"offset":0.0556,"color":"#1a1a1a"},{"offset":0.0756,"color":"#b3b3b3"},
                 {"offset":0.1467,"color":"#b3b3b3"},{"offset":0.1667,"color":"#1a1a1a"},{"offset":0.1867,"color":"#b3b3b3"},
                 {"offset":0.2578,"color":"#b3b3b3"},{"offset":0.2778,"color":"#1a1a1a"},{"offset":0.2978,"color":"#b3b3b3"},
                 {"offset":0.3689,"color":"#b3b3b3"},{"offset":0.3889,"color":"#1a1a1a"},{"offset":0.4089,"color":"#b3b3b3"},
                 {"offset":0.48,"color":"#b3b3b3"},{"offset":0.5,"color":"#1a1a1a"},{"offset":0.52,"color":"#b3b3b3"},
                 {"offset":0.5911,"color":"#b3b3b3"},{"offset":0.6111,"color":"#1a1a1a"},{"offset":0.6311,"color":"#b3b3b3"},
                 {"offset":0.7022,"color":"#b3b3b3"},{"offset":0.7222,"color":"#1a1a1a"},{"offset":0.7422,"color":"#b3b3b3"},
                 {"offset":0.8133,"color":"#b3b3b3"},{"offset":0.8333,"color":"#1a1a1a"},{"offset":0.8533,"color":"#b3b3b3"},
                 {"offset":0.9244,"color":"#b3b3b3"},{"offset":0.9444,"color":"#1a1a1a"},{"offset":0.9644,"color":"#b3b3b3"}]}},
             "encoding": {"y": {"field": "q1", "type": "quantitative", "scale": {"domain": [0.75, 1.025], "nice": false, "zero": false}, "axis": null}, "y2": {"field": "q3"}}},
            {"transform": [{"filter": "datum.pair === 'GL-SOL' && datum.cond === 'TS Unstable'"}],
             "mark": {"type": "bar", "width": 15, "align": "left", "stroke": "#222222", "strokeWidth": 1.5, "opacity": 1,
               "fill": {"gradient": "linear", "x1": 0, "y1": 1, "x2": 0.2668, "y2": -0.1675, "stops": [
                 {"offset":0.032,"color":"#b3b3b3"},{"offset":0.05,"color":"#1a1a1a"},{"offset":0.068,"color":"#b3b3b3"},
                 {"offset":0.132,"color":"#b3b3b3"},{"offset":0.15,"color":"#1a1a1a"},{"offset":0.168,"color":"#b3b3b3"},
                 {"offset":0.232,"color":"#b3b3b3"},{"offset":0.25,"color":"#1a1a1a"},{"offset":0.268,"color":"#b3b3b3"},
                 {"offset":0.332,"color":"#b3b3b3"},{"offset":0.35,"color":"#1a1a1a"},{"offset":0.368,"color":"#b3b3b3"},
                 {"offset":0.432,"color":"#b3b3b3"},{"offset":0.45,"color":"#1a1a1a"},{"offset":0.468,"color":"#b3b3b3"},
                 {"offset":0.532,"color":"#b3b3b3"},{"offset":0.55,"color":"#1a1a1a"},{"offset":0.568,"color":"#b3b3b3"},
                 {"offset":0.632,"color":"#b3b3b3"},{"offset":0.65,"color":"#1a1a1a"},{"offset":0.668,"color":"#b3b3b3"},
                 {"offset":0.732,"color":"#b3b3b3"},{"offset":0.75,"color":"#1a1a1a"},{"offset":0.768,"color":"#b3b3b3"},
                 {"offset":0.832,"color":"#b3b3b3"},{"offset":0.85,"color":"#1a1a1a"},{"offset":0.868,"color":"#b3b3b3"},
                 {"offset":0.932,"color":"#b3b3b3"},{"offset":0.95,"color":"#1a1a1a"},{"offset":0.968,"color":"#b3b3b3"}]}},
             "encoding": {"y": {"field": "q1", "type": "quantitative", "scale": {"domain": [0.75, 1.025], "nice": false, "zero": false}, "axis": null}, "y2": {"field": "q3"}}},
            {"mark": {"type": "point", "shape": "M-1,0H1", "size": 225, "filled": false, "stroke": "#222222", "strokeWidth": 1.5, "opacity": 1},
             "encoding": {"y": {"field": "med", "type": "quantitative", "scale": {"domain": [0.75, 1.025], "nice": false, "zero": false}, "axis": null}}},
            {"mark": {"type": "point", "shape": "square", "size": 36, "filled": false, "stroke": "#707070", "strokeWidth": 1, "opacity": 1},
             "encoding": {"y": {"field": "mean", "type": "quantitative", "scale": {"domain": [0.75, 1.025], "nice": false, "zero": false}, "axis": null}}},
            {"mark": {"type": "point", "shape": "M-1,-1L1,1M-1,1L1,-1", "size": 49, "filled": false, "stroke": "#8c8c8c", "strokeWidth": 1.2, "opacity": 1},
             "encoding": {"y": {"field": "max", "type": "quantitative", "scale": {"domain": [0.75, 1.025], "nice": false, "zero": false}, "axis": null}}},
            {"mark": {"type": "point", "shape": "M-1,-1L1,1M-1,1L1,-1", "size": 49, "filled": false, "stroke": "#8c8c8c", "strokeWidth": 1.2, "opacity": 1},
             "encoding": {"y": {"field": "min", "type": "quantitative", "scale": {"domain": [0.75, 1.025], "nice": false, "zero": false}, "axis": null}}}
          ]
        },
        {
          "transform": [{"filter": "isValid(datum.v)"}],
          "mark": {"type": "point", "shape": "diamond", "filled": true, "size": 26, "color": "#000000", "opacity": 1},
          "encoding": {
            "x": {"field": "cond", "type": "nominal", "scale": {"type": "band", "domain": ["TS Stable", "TS Unstable"], "paddingInner": 0.2593, "paddingOuter": 0.1389, "align": 0.633}},
            "xOffset": {"field": "id", "type": "ordinal", "scale": {"range": [19.5, 38], "paddingInner": 0, "paddingOuter": 0}},
            "y": {"field": "v", "type": "quantitative", "scale": {"domain": [0.75, 1.025], "nice": false, "zero": false}, "axis": null}
          }
        },
        {
          "transform": [{"filter": "isValid(datum.sig)"}],
          "mark": {"type": "text", "fontSize": 24, "color": "#000000", "baseline": "alphabetic", "align": "center"},
          "encoding": {
            "y": {"datum": 0.7616, "type": "quantitative", "scale": {"domain": [0.75, 1.025], "nice": false, "zero": false}, "axis": null},
            "text": {"field": "sig"}
          }
        }
      ]
    }
  }
],
"spacing": 27,
"resolve": {"scale": {"xOffset": "independent"}}
}
